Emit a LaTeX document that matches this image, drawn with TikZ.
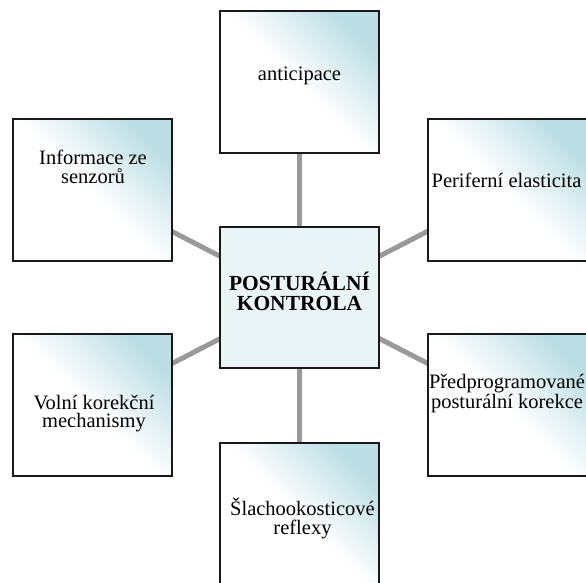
\documentclass[tikz,border=0pt]{standalone}
\usepackage{fontspec}
\setmainfont{Liberation Serif}
\usetikzlibrary{backgrounds}
\definecolor{sh1}{RGB}{236,245,247}
\definecolor{sh2}{RGB}{212,234,238}
\definecolor{sh3}{RGB}{188,222,228}
\definecolor{ctrfill}{RGB}{234,244,246}
\definecolor{linkgray}{RGB}{153,153,153}
\definecolor{edgecol}{RGB}{25,25,25}
\pgfdeclareverticalshading{boxshade}{100bp}{color(0bp)=(white); color(49bp)=(white); color(57bp)=(sh1); color(66bp)=(sh2); color(75bp)=(sh3); color(100bp)=(sh3)}
\tikzset{
  outerbox/.style={draw=edgecol, line width=2pt, minimum width=159pt, minimum height=142pt, inner sep=0pt, shade, shading=boxshade, shading angle=-45},
  centerbox/.style={draw=edgecol, line width=2pt, minimum width=159pt, minimum height=141pt, inner sep=0pt, fill=ctrfill},
  lbl/.style={anchor=base, align=center, inner sep=0pt, font=\fontsize{20.5}{18.5}\selectfont},
  clbl/.style={anchor=base, align=center, inner sep=0pt, font=\fontsize{21.5}{20.5}\selectfont\bfseries},
  link/.style={draw=linkgray, line width=5pt},
}
\begin{document}
\begin{tikzpicture}[x=1pt,y=-1pt]
\useasboundingbox (0,0) rectangle (586,583);
\clip (0,0) rectangle (586,583);
\node[centerbox] (ctr) at (299.5,297.5) {};
\node[outerbox] (top) at (299.5,82.25) {};
\node[outerbox] (lt) at (92,190) {};
\node[outerbox] (rt) at (507.5,190) {};
\node[outerbox] (lb) at (92,405) {};
\node[outerbox] (rb) at (507.5,404.5) {};
\node[outerbox] (bot) at (299.5,514) {};
\begin{pgfonlayer}{background}
\draw[link] (ctr.center) -- (top.center);
\draw[link] (ctr.center) -- (lt.center);
\draw[link] (ctr.center) -- (rt.center);
\draw[link] (ctr.center) -- (lb.center);
\draw[link] (ctr.center) -- (rb.center);
\draw[link] (ctr.center) -- (bot.center);
\end{pgfonlayer}
\node[lbl] (ttop) at (299.5,81) {anticipace};
\node[lbl] (tlt) at (93,183.3) {Informace ze\\senzorů};
\node[lbl] (trt) at (506.5,187) {Periferní elasticita};
\node[clbl] (tctr) at (299.5,310.7) {POSTURÁLNÍ\\KONTROLA};
\node[lbl] (trb) at (507,408.3) {Předprogramované\\posturální korekce};
\node[lbl] (tlb) at (94,427.7) {Volní korekční\\mechanismy};
\node[lbl] (tbot) at (302.5,534) {Šlachookosticové\\reflexy};
\end{tikzpicture}
\end{document}
